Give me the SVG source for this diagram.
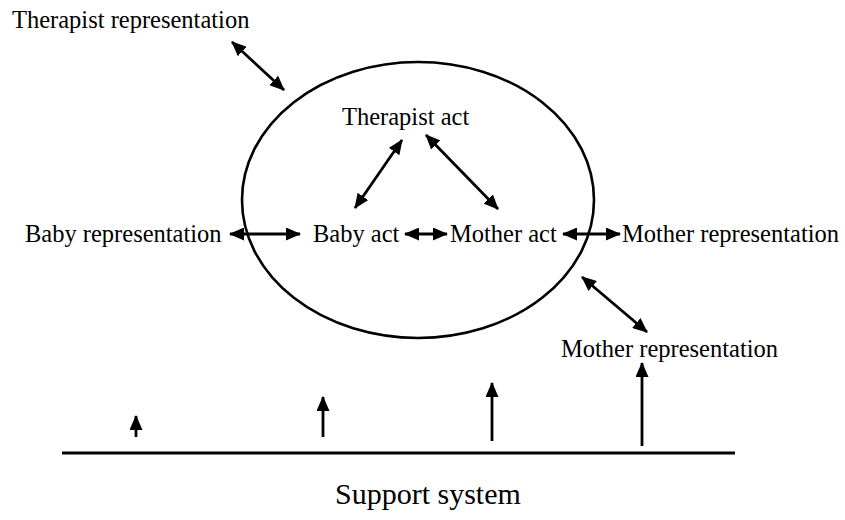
<svg xmlns="http://www.w3.org/2000/svg" width="845" height="520" viewBox="0 0 845 520">
  <style>
    .t { font-family: "Liberation Serif", "Times New Roman", serif; font-size: 24.5px; fill: #000; }
    .big { font-size: 30px; }
    .c { stroke: #000; stroke-width: 2.8; fill: none; }
  </style>
  <defs>
    <marker id="ah" viewBox="0 0 15 13" refX="14" refY="6.5" markerWidth="15" markerHeight="13" markerUnits="userSpaceOnUse" orient="auto-start-reverse">
      <path d="M0,0 L15,6.5 L0,13 z" fill="#000"/>
    </marker>
  </defs>
  <rect width="845" height="520" fill="#fff"/>

  <g id="ellipse">
    <ellipse cx="418" cy="200" rx="176" ry="138" fill="none" stroke="#000" stroke-width="2.6"/>
  </g>

  <g id="therapist-representation"><text class="t" x="12" y="28">Therapist representation</text></g>
  <g id="therapist-act"><text class="t" x="342" y="125">Therapist act</text></g>
  <g id="baby-representation"><text class="t" x="25" y="242">Baby representation</text></g>
  <g id="baby-act"><text class="t" x="313" y="242">Baby act</text></g>
  <g id="mother-act"><text class="t" x="450" y="242">Mother act</text></g>
  <g id="mother-representation-right"><text class="t" x="622" y="242">Mother representation</text></g>
  <g id="mother-representation-lower"><text class="t" x="561" y="357">Mother representation</text></g>
  <g id="support-system">
    <line x1="62" y1="453" x2="735" y2="453" stroke="#000" stroke-width="3"/>
    <text class="t big" x="335" y="504">Support system</text>
  </g>

  <g id="connectors" class="c">
    <line x1="232" y1="42" x2="284" y2="90" marker-start="url(#ah)" marker-end="url(#ah)"/>
    <line x1="402" y1="140" x2="355" y2="208" marker-start="url(#ah)" marker-end="url(#ah)"/>
    <line x1="426" y1="135" x2="498" y2="209" marker-start="url(#ah)" marker-end="url(#ah)"/>
    <line x1="230" y1="234" x2="300" y2="234" marker-start="url(#ah)" marker-end="url(#ah)"/>
    <line x1="405" y1="234" x2="447" y2="234" marker-start="url(#ah)" marker-end="url(#ah)"/>
    <line x1="563" y1="234" x2="620" y2="234" marker-start="url(#ah)" marker-end="url(#ah)"/>
    <line x1="582" y1="277" x2="647" y2="332" marker-start="url(#ah)" marker-end="url(#ah)"/>
    <line x1="136" y1="437" x2="136" y2="416" marker-end="url(#ah)"/>
    <line x1="323" y1="437" x2="323" y2="397" marker-end="url(#ah)"/>
    <line x1="492" y1="441" x2="492" y2="383" marker-end="url(#ah)"/>
    <line x1="642" y1="446" x2="642" y2="363" marker-end="url(#ah)"/>
  </g>
</svg>
